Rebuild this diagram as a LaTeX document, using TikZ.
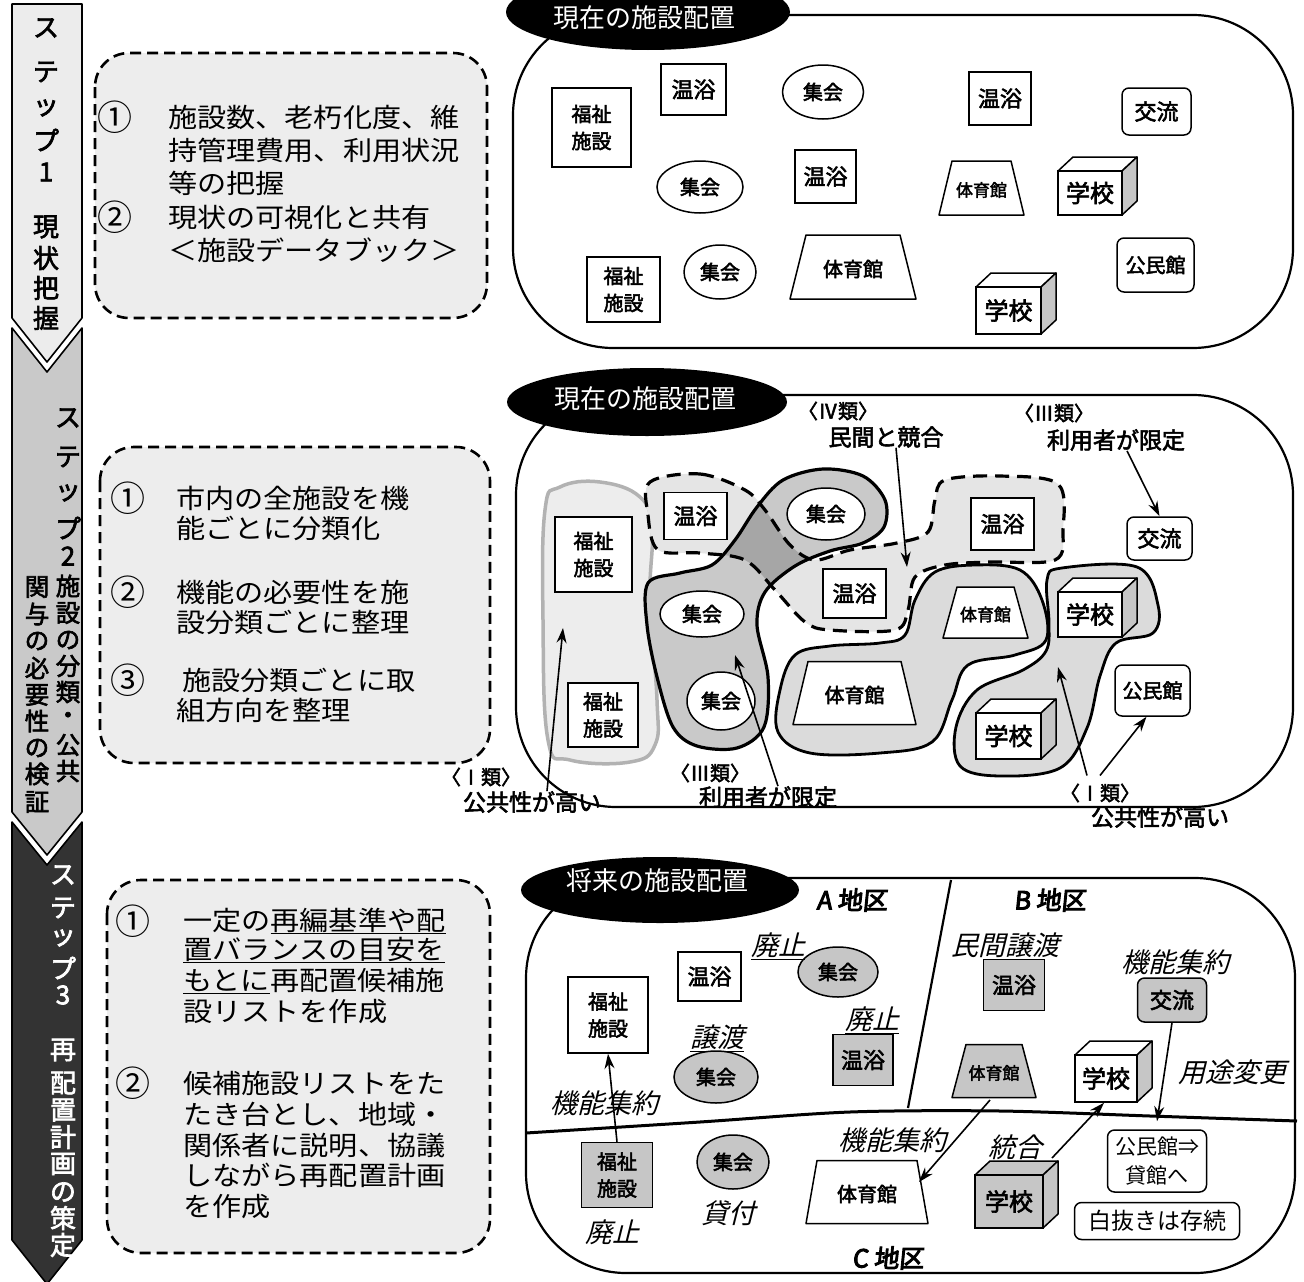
\documentclass[tikz,border=0pt]{standalone}
\usepackage{fontspec}
\setmainfont{Noto Sans CJK JP}
\newfontfamily\jb[FakeBold=2.5]{Noto Sans CJK JP}
\newfontfamily\jbb[FakeBold=4,FakeSlant=0.1]{Noto Sans CJK JP}
\newfontfamily\ji[FakeSlant=0.25]{Noto Sans CJK JP}
\newfontfamily\jw[FakeStretch=1.1]{Noto Sans CJK JP}
\usetikzlibrary{shapes.geometric,arrows.meta}
\newcommand{\myfs}[2]{\fontsize{#1}{#2}\selectfont}
\newcommand{\mycube}[7]{%
  \filldraw[fill=#6, line width=1.5pt, line join=round] (#2,#3) -- ({#2+15},{#3-14}) -- ({#4+15},{#3-14}) -- (#4,#3) -- cycle;
  \filldraw[fill=gray!45, line width=1.5pt, line join=round] (#4,#3) -- ({#4+15},{#3-14}) -- ({#4+15},{#5-14}) -- (#4,#5) -- cycle;
  \node[fac, fill=#6, minimum width={#4-#2}, minimum height={#5-#3}, font=\jb\myfs{24}{24}] (#1) at ({(#2+#4)/2},{(#3+#5)/2}) {#7};}
\newcommand{\mytrap}[8]{%
  \filldraw[fill=#7, line width=1.5pt, line join=round] ({#2-#4/2},{#3-#6/2}) -- ({#2+#4/2},{#3-#6/2}) -- ({#2+#5/2},{#3+#6/2}) -- ({#2-#5/2},{#3+#6/2}) -- cycle;
  \node[inner sep=0pt, font=\jb\myfs{20}{20}] (#1) at (#2,{#3+2}) {#8};}
\tikzset{
  fac/.style={draw, line width=1.5pt, fill=white, inner sep=0pt, align=center, font=\jb\myfs{20}{27}},
  ell/.style={fac, ellipse},
  rbox/.style={fac, rounded corners=7pt},
  mypanel/.style={draw, line width=2.2pt, rounded corners=100pt},
  myttl/.style={fill=black, ellipse, inner sep=0pt},
  ttext/.style={text=white, inner sep=0pt, font=\myfs{26}{26}},
  dbox/.style={draw, dashed, line width=2.6pt, dash pattern=on 11pt off 6pt, rounded corners=34pt, fill=gray!14},
  btxt/.style={anchor=west, inner sep=0pt, font=\jw\myfs{26.5}{30}},
  numc/.style={inner sep=0pt, font=\myfs{35}{35}},
  arr/.style={line width=1.6pt, -{Stealth[length=15pt,width=10pt]}},
  lbl/.style={inner sep=0pt, font=\jb\myfs{23}{23}},
  lbls/.style={inner sep=0pt, font=\jb\myfs{20}{20}},
  itl/.style={inner sep=0pt, font=\ji\myfs{27}{27}},
  stc/.style={inner sep=0pt, font=\jb\myfs{26}{26}},
  stcs/.style={inner sep=0pt, font=\jb\myfs{24.5}{24.5}},
}
\begin{document}
\begin{tikzpicture}[x=1pt,y=-1pt]
\useasboundingbox (0,0) rectangle (1304,1282);
\fill[white] (0,0) rectangle (1304,1282);

% ---------- step arrows ----------
\filldraw[fill=gray!15, line width=1.6pt, line join=round] (12,4) -- (82,4) -- (82,318) -- (47,362) -- (12,318) -- cycle;
\filldraw[fill=gray!42, line width=1.6pt, line join=round] (12,328) -- (47,372) -- (82,328) -- (82,812) -- (47,855) -- (12,812) -- cycle;
\filldraw[fill=black!80, line width=1.6pt, line join=round] (12,822) -- (47,865) -- (82,822) -- (82,1240) -- (47,1284) -- (12,1240) -- cycle;

\foreach \c/\y in {ス/28, テ/72, ッ/108, プ/140, 1/172, 現/227, 状/258, 把/288, 握/318}
  \node[stc] (sa-\y) at (46,\y) {\c};
\foreach \c/\y in {ス/418, テ/457, ッ/493, プ/528, 2/556}
  \node[stc] (sb-\y) at (68,\y) {\c};
\foreach \c/\y in {施/586, 設/613, の/640, 分/666, 類/692, ・/718, 公/745, 共/771}
  \node[stcs] (sb-\y) at (68,\y) {\c};
\foreach \c/\y in {関/587, 与/614, の/641, 必/668, 要/695, 性/721, の/748, 検/774, 証/802}
  \node[stcs] (sc-\y) at (37,\y) {\c};
\foreach \c/\y in {ス/875, テ/908, ッ/938, プ/968, 3/995, 再/1050, 配/1083, 置/1110, 計/1137, 画/1164, の/1192, 策/1218, 定/1245}
  \node[stc, text=white] (sd-\y) at (63,\y) {\c};

% ---------- dashed text boxes ----------
\draw[dbox] (95,53) rectangle (487,318);
\node[numc] (n1a) at (115,117) {①};
\node[numc] (n1b) at (115,217) {②};
\node[btxt] (x1a) at (168,117) {施設数、老朽化度、維};
\node[btxt] (x1b) at (168,150) {持管理費用、利用状況};
\node[btxt] (x1c) at (168,183) {等の把握};
\node[btxt] (x1d) at (168,217) {現状の可視化と共有};
\node[btxt] (x1e) at (168,250) {＜施設データブック＞};

\draw[dbox] (100,447) rectangle (490,763);
\node[numc] (n2a) at (128,498) {①};
\node[numc] (n2b) at (128,592) {②};
\node[numc] (n2c) at (128,680) {③};
\node[btxt] (x2a) at (176,498) {市内の全施設を機};
\node[btxt] (x2b) at (176,528) {能ごとに分類化};
\node[btxt] (x2c) at (176,592) {機能の必要性を施};
\node[btxt] (x2d) at (176,622) {設分類ごとに整理};
\node[btxt] (x2e) at (182,680) {施設分類ごとに取};
\node[btxt] (x2f) at (176,710) {組方向を整理};

\draw[dbox] (107,880) rectangle (490,1253);
\node[numc] (n3a) at (133,921) {①};
\node[numc] (n3b) at (133,1083) {②};
\node[btxt] (x3a) at (183,921) {一定の\underline{再編基準や配}};
\node[btxt] (x3b) at (183,950) {\underline{置バランスの目安を}};
\node[btxt] (x3c) at (183,981) {\underline{もとに}再配置候補施};
\node[btxt] (x3d) at (183,1012) {設リストを作成};
\node[btxt] (x3e) at (183,1083) {候補施設リストをた};
\node[btxt] (x3f) at (183,1114) {たき台とし、地域・};
\node[btxt] (x3g) at (183,1145) {関係者に説明、協議};
\node[btxt] (x3h) at (183,1175) {しながら再配置計画};
\node[btxt] (x3i) at (183,1207) {を作成};

% ---------- panel 1 ----------
\draw[mypanel] (513,15) rectangle (1293,348);
\node[myttl, minimum width=284, minimum height=76] (t1) at (648,12) {};
\node[ttext] (t1t) at (644,18) {現在の施設配置};
\node[fac, minimum width=79, minimum height=79] (a1) at (591.5,127.5) {福祉\\施設};
\node[fac, minimum width=65, minimum height=51, font=\jb\myfs{22}{22}] (a2) at (693.5,89.5) {温浴};
\node[ell, minimum width=81, minimum height=54] (a3) at (823,92) {集会};
\node[fac, minimum width=62, minimum height=53, font=\jb\myfs{22}{22}] (a4) at (1000,98.5) {温浴};
\node[rbox, minimum width=69, minimum height=47, font=\jb\myfs{22}{22}] (a5) at (1156.5,111.5) {交流};
\node[ell, minimum width=86, minimum height=52] (a6) at (700,187) {集会};
\node[fac, minimum width=61, minimum height=53, font=\jb\myfs{22}{22}] (a7) at (825.5,176.5) {温浴};
\mytrap{a8}{981.5}{188}{59}{85}{54}{white}{\myfs{17}{17}体育館}
\mycube{a9}{1058}{171}{1122}{215}{white}{学校}
\node[rbox, minimum width=77, minimum height=54] (a10) at (1155.5,265) {公民館};
\node[fac, minimum width=73, minimum height=65] (a11) at (623.5,289.5) {福祉\\施設};
\node[ell, minimum width=72, minimum height=54] (a12) at (720,272) {集会};
\mytrap{a13}{853}{267}{94}{126}{64}{white}{体育館}
\mycube{a14}{976}{287}{1041}{334}{white}{学校}

% ---------- panel 2 ----------
\draw[mypanel] (516,395) rectangle (1293,807);
\node[myttl, minimum width=280, minimum height=68] (t2) at (647,402) {};
\node[ttext] (t2t) at (645,399) {現在の施設配置};

\def\blobL{plot[smooth cycle, tension=0.7] coordinates {(545,510) (560,487) (600,482) (640,497) (652,530) (650,600) (657,700) (655,745) (630,762) (570,760) (548,740) (543,620)}}
\def\blobIV{plot[smooth cycle, tension=0.55] coordinates {(650,482) (700,474) (745,490) (765,510) (790,545) (815,560) (850,550) (897,543) (928,532) (935,500) (945,480) (1000,476) (1058,484) (1063,530) (1055,560) (990,562) (945,565) (915,577) (908,610) (895,630) (830,630) (805,622) (775,590) (745,560) (700,553) (658,550) (648,515)}}
\def\blobIII{plot[smooth cycle, tension=0.55] coordinates {(648,583) (680,573) (712,565) (735,540) (757,507) (783,480) (823,469) (863,476) (885,500) (884,527) (863,543) (830,551) (795,566) (765,592) (757,625) (768,677) (764,727) (737,748) (697,746) (673,727) (657,677) (647,625)}}
\def\blobR{plot[smooth cycle, tension=0.6] coordinates {(780,690) (795,655) (830,646) (880,643) (905,635) (915,600) (935,572) (975,565) (1020,570) (1042,600) (1046,640) (1015,655) (968,665) (952,700) (932,742) (880,753) (810,753) (778,732)}}
\def\blobS{plot[smooth cycle, tension=0.6] coordinates {(1047,580) (1062,568) (1137,567) (1158,605) (1153,633) (1116,643) (1100,676) (1087,728) (1060,768) (1000,776) (960,766) (956,727) (977,690) (1023,670) (1046,651) (1049,623)}}

\filldraw[fill=gray!14, draw=gray!60, line width=3.5pt] \blobL;
\filldraw[fill=gray!28, draw=black, line width=2.8pt] \blobR;
\filldraw[fill=gray!28, draw=black, line width=2.8pt] \blobS;
\fill[gray!20] \blobIV;
\fill[gray!42] \blobIII;
\begin{scope}
  \clip \blobIII;
  \fill[gray!70] \blobIV;
\end{scope}
\draw[line width=3.2pt] \blobIII;
\draw[line width=3.2pt, dash pattern=on 14pt off 8pt] \blobIV;

\node[fac, minimum width=77, minimum height=75] (b1) at (593.5,554.5) {福祉\\施設};
\node[fac, minimum width=70, minimum height=64] (b2) at (603,715) {福祉\\施設};
\node[fac, minimum width=63, minimum height=47, font=\jb\myfs{22}{22}] (b3) at (695.5,516) {温浴};
\node[ell, minimum width=78, minimum height=52] (b4) at (826,514) {集会};
\node[fac, minimum width=63, minimum height=52, font=\jb\myfs{22}{22}] (b5) at (1002.5,524) {温浴};
\node[rbox, minimum width=65, minimum height=43, font=\jb\myfs{22}{22}] (b6) at (1159.5,538.5) {交流};
\node[ell, minimum width=84, minimum height=46] (b7) at (702,614) {集会};
\node[fac, minimum width=63, minimum height=49, font=\jb\myfs{22}{22}] (b8) at (854.5,593.5) {温浴};
\mytrap{b9}{985.5}{612.5}{57}{85}{51}{white}{\myfs{17}{17}体育館}
\mycube{b10}{1058}{592}{1122}{637}{white}{学校}
\node[rbox, minimum width=75, minimum height=51] (b11) at (1152.5,690.5) {公民館};
\node[ell, minimum width=68, minimum height=58] (b12) at (721,701) {集会};
\mytrap{b13}{854.5}{693}{93}{123}{63}{white}{体育館}
\mycube{b14}{976}{713}{1041}{759}{white}{学校}

\node[lbls] (l1a) at (838,411) {〈Ⅳ類〉};
\node[lbl] (l1b) at (886,437) {民間と競合};
\node[lbls] (l2a) at (1054,413) {〈Ⅲ類〉};
\node[lbl] (l2b) at (1116,440) {利用者が限定};
\node[lbls] (l3a) at (481,777) {〈Ⅰ類〉};
\node[lbl] (l3b) at (532,802) {公共性が高い};
\node[lbls] (l4a) at (710,773) {〈Ⅲ類〉};
\node[lbl] (l4b) at (768,797) {利用者が限定};
\node[lbls] (l5a) at (1100,793) {〈Ⅰ類〉};
\node[lbl] (l5b) at (1160,817) {公共性が高い};

\coordinate (e1) at (563,628);
\coordinate (e2) at (735,655);
\coordinate (e3) at (907,567);
\coordinate (e4) at (1058,667);
\draw[arr] ([xshift=15pt]l3b.north) -- (e1);
\draw[arr] ([xshift=10pt]l4b.north) -- (e2);
\draw[arr] ([xshift=10pt]l1b.south) -- (e3);
\draw[arr] ([xshift=11pt]l2b.south) -- (b6.north);
\draw[arr] ([xshift=-13pt,yshift=8pt]l5a.north) -- (e4);
\draw[arr] ([yshift=8pt]l5a.north) -- ([xshift=-6pt]b11.south);

% ---------- panel 3 ----------
\draw[mypanel] (526,878) rectangle (1295,1273);
\node[myttl, minimum width=278, minimum height=66] (t3) at (660,890) {};
\node[ttext] (t3t) at (657,881) {将来の施設配置};
\draw[line width=2.2pt] (951,880) -- (908,1108);
\draw[line width=3pt] plot[smooth] coordinates {(526,1133) (700,1122) (850,1112) (1000,1111) (1150,1116) (1297,1121)};

\node[inner sep=0pt, font=\jbb\myfs{25}{25}] (dA) at (852,900) {A 地区};
\node[inner sep=0pt, font=\jbb\myfs{25}{25}] (dB) at (1050,900) {B 地区};
\node[inner sep=0pt, font=\jbb\myfs{25}{25}] (dC) at (888,1258) {C 地区};

\node[fac, minimum width=80, minimum height=76] (c1) at (608,1015) {福祉\\施設};
\node[fac, minimum width=63, minimum height=49, font=\jb\myfs{22}{22}] (c2) at (709.5,976.5) {温浴};
\node[ell, fill=gray!45, minimum width=80, minimum height=50] (c3) at (838,972) {集会};
\node[ell, fill=gray!45, minimum width=84, minimum height=52] (c4) at (716,1077) {集会};
\node[fac, fill=gray!45, minimum width=60, minimum height=51, font=\jb\myfs{22}{22}] (c5) at (863,1060) {温浴};
\node[fac, fill=gray!45, minimum width=61, minimum height=51, font=\jb\myfs{22}{22}] (c6) at (1014,985) {温浴};
\node[rbox, fill=gray!45, minimum width=69, minimum height=44, font=\jb\myfs{22}{22}] (c7) at (1172,1000) {交流};
\mytrap{c8}{994}{1071}{56}{84}{53}{gray!45}{\myfs{17}{17}体育館}
\mycube{c9}{1075}{1055}{1137}{1102}{white}{学校}
\node[fac, fill=gray!45, minimum width=71, minimum height=65] (c10) at (617,1175) {福祉\\施設};
\node[ell, fill=gray!45, minimum width=72, minimum height=54] (c11) at (733,1162) {集会};
\mytrap{c12}{867}{1192}{100}{122}{63}{white}{体育館}
\mycube{c13}{975}{1175}{1043}{1228}{gray!45}{学校}
\node[rbox, minimum width=99, minimum height=62, font=\myfs{21}{29}] (c14) at (1157,1161) {公民館⇒\\貸館へ};
\node[rbox, minimum width=165, minimum height=37, font=\myfs{23}{23}] (c15) at (1157,1221) {白抜きは存続};

\node[itl] (h1) at (778,946) {\underline{廃止}};
\node[itl] (h2) at (872,1020) {\underline{廃止}};
\node[itl] (h3) at (717,1038) {\underline{譲渡}};
\node[itl] (h4) at (604,1103) {機能集約};
\node[itl] (h5) at (1005,945) {民間譲渡};
\node[itl] (h6) at (1175,962) {機能集約};
\node[itl] (h7) at (1232,1072) {用途変更};
\node[itl] (h8) at (892,1140) {機能集約};
\node[itl] (h9) at (1015,1147) {統合};
\node[itl] (h10) at (728,1213) {貸付};
\node[itl] (h11) at (612,1232) {廃止};

\coordinate (s3) at (990,1100);
\coordinate (e5) at (919,1182);
\coordinate (s4) at (1052,1158);
\draw[arr] (c10.north) -- (c1.south);
\draw[arr] (c7.south) -- ([yshift=8pt]c14.north);
\draw[arr] (s3) -- (e5);
\draw[arr] (s4) -- ([xshift=-2pt]c9.south);
\end{tikzpicture}
\end{document}
